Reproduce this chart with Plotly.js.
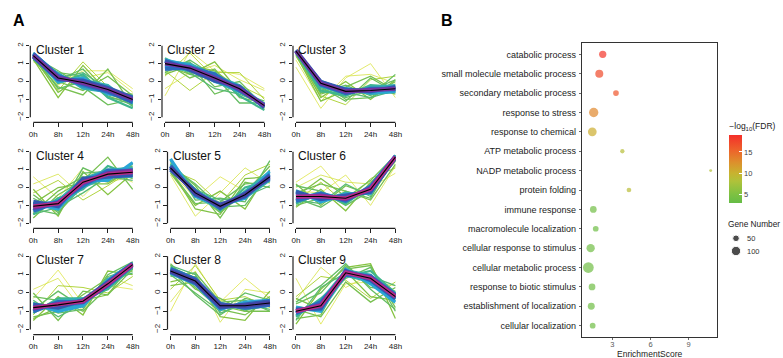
<!DOCTYPE html>
<html><head><meta charset="utf-8">
<script src="https://cdn.plot.ly/plotly-3.0.1.min.js"></script>
<style>html,body{margin:0;padding:0;background:#fff;}#chart{width:783px;height:358px;}</style>
</head><body><div id="chart"></div>
<script>
// ---------------- DATA ----------------
const timeLabels = ['0h','8h','12h','24h','48h'];
const clusterNames = ['Cluster 1','Cluster 2','Cluster 3','Cluster 4','Cluster 5','Cluster 6','Cluster 7','Cluster 8','Cluster 9'];
const clusterSizes = [124,130,120,165,123,271,230,141,125];

// representative standardized profiles per cluster, with membership
const cluster1Profiles = [[1.2,-0.2,0.6,0.6,-0.4],[1.1,0.3,0.2,0.5,-0.6],[1.3,-0.5,1.1,-0.3,-0.9],[1.25,-0.9,0.9,-0.6,-0.7],[1.3,-0.3,-0.75,0.7,-1.4],[1.4,0.6,-0.3,-1.3,-1.0],[1.2,0.1,0.7,-0.8,-1.3],[1.5,-0.1,0.4,-0.9,-1.5],[1.6,0.4,-0.3,-0.3,-1.2],[1.4,0.0,0.2,-0.7,-0.9],[1.55,0.3,-0.15,-0.55,-1.15],[1.4,0.12,0.05,-0.35,-0.9],[1.45,0.22,-0.08,-0.45,-1.0],
  [1.3,0.5,0.3,-0.9,-1.1],[1.5,-0.4,0.0,-0.2,-1.3],[1.2,0.0,-0.5,0.3,-0.8],[1.6,0.2,0.5,-0.4,-1.4],[1.4,-0.6,0.3,-0.7,-1.2],[1.35,0.45,-0.4,-0.6,-0.8],[1.5,0.05,0.1,-0.2,-1.25],[1.55,0.35,-0.25,-0.6,-1.05],[1.35,0.1,0.1,-0.4,-0.95]];
const cluster1Membership = [0.1,0.12,0.25,0.35,0.38,0.4,0.42,0.5,0.58,0.6,0.72,0.75,0.88,0.4,0.42,0.38,0.45,0.36,0.55,0.55,0.65,0.65];
const cluster1Centroid = [1.45,0.2,-0.05,-0.45,-1.0];

const cluster2Profiles = [[-0.8,1.7,0.6,0.4,-0.4],[-0.4,0.5,0.9,0.1,-0.5],[0.3,1.6,0.2,-0.2,-0.9],[0.6,-0.5,0.5,0.5,-1.0],[0.9,0.4,1.1,-0.6,-1.3],[1.2,1.0,-0.7,-0.2,-1.5],[0.5,1.2,0.3,-1.2,-1.2],[1.3,0.6,0.5,-0.8,-1.6],[1.2,0.9,0.0,-0.3,-1.4],[0.7,0.8,0.4,-0.5,-1.3],[1.15,0.65,0.05,-0.3,-1.45],[1.0,0.78,0.2,-0.42,-1.35],
  [1.1,0.2,0.7,-0.9,-1.2],[0.9,1.1,-0.3,0.0,-1.4],[1.3,0.4,0.1,-0.6,-1.1],[0.4,0.9,0.6,-0.4,-1.5],[1.2,0.5,-0.4,-0.7,-1.3],[1.1,1.0,0.35,-0.2,-1.4],[0.8,0.6,0.0,-0.6,-1.25],[1.15,0.85,0.1,-0.5,-1.4],[0.9,0.7,0.3,-0.3,-1.3]];
const cluster2Membership = [0.1,0.12,0.22,0.25,0.35,0.4,0.42,0.5,0.6,0.7,0.75,0.88,0.38,0.4,0.42,0.36,0.45,0.55,0.55,0.65,0.65];
const cluster2Centroid = [1.0,0.75,0.2,-0.4,-1.35];

const cluster3Profiles = [[0.8,-1.5,0.2,1.0,-0.9],[1.2,-1.1,0.3,0.4,-0.1],[1.4,-0.8,-1.3,0.1,0.3],[1.6,-0.9,0.0,-1.0,0.1],[1.5,-0.3,-1.1,0.2,-0.6],[1.7,-0.6,-0.2,-0.8,0.4],[1.6,-0.5,-0.8,-0.2,-0.3],[1.7,-0.2,-0.4,-0.6,-0.55],[1.7,-0.15,-0.65,-0.4,-0.4],[1.75,-0.02,-0.45,-0.55,-0.3],[1.7,-0.1,-0.55,-0.5,-0.4],
  [1.5,-1.1,-0.5,-0.3,-0.7],[1.7,0.0,-1.0,-0.9,0.0],[1.6,-0.7,-0.3,0.3,-0.5],[1.65,-0.4,-0.9,-0.5,0.1],[1.55,-0.6,-0.6,-0.9,-0.5],[1.7,-0.3,-0.7,-0.3,-0.2],[1.75,-0.05,-0.4,-0.7,-0.6],[1.72,-0.2,-0.6,-0.45,-0.5],[1.7,0.0,-0.5,-0.6,-0.35]];
const cluster3Membership = [0.1,0.12,0.25,0.35,0.4,0.42,0.5,0.6,0.72,0.75,0.88,0.36,0.4,0.38,0.42,0.45,0.55,0.55,0.65,0.65];
const cluster3Centroid = [1.7,-0.1,-0.55,-0.5,-0.4];

const cluster4Profiles = [[0.6,-0.6,1.1,0.3,0.6],[0.2,0.75,-0.5,0.9,0.3],[-0.3,0.4,-0.7,0.1,1.0],[-0.1,-1.6,0.9,-0.4,0.8],[-1.7,-0.4,0.4,1.7,-0.1],[-0.6,-1.3,1.1,0.5,1.3],[-1.5,-0.6,-0.1,1.2,0.7],[-0.9,-1.2,0.4,0.4,1.4],[-1.3,-0.8,0.1,0.95,0.9],[-0.8,-1.05,0.5,0.6,0.7],[-1.15,-0.85,0.25,0.8,0.95],[-1.05,-0.9,0.3,0.75,0.85],
  [-1.4,-0.2,0.6,0.3,1.0],[-0.4,-1.4,0.1,1.0,0.5],[-1.2,-1.5,0.8,0.9,1.2],[-0.9,0.0,0.2,0.2,1.1],[-1.5,-1.1,-0.3,0.6,0.4],[-1.2,-0.7,0.5,1.0,1.1],[-0.9,-1.1,0.0,0.6,0.6],[-1.15,-0.95,0.4,0.9,1.0],[-0.95,-0.8,0.15,0.65,0.75]];
const cluster4Membership = [0.1,0.12,0.25,0.35,0.38,0.42,0.5,0.6,0.7,0.75,0.88,0.95,0.38,0.4,0.42,0.36,0.45,0.55,0.55,0.65,0.65];
const cluster4Centroid = [-1.05,-0.9,0.3,0.75,0.85];

const cluster5Profiles = [[0.9,-0.6,0.6,-0.2,0.9],[0.7,-1.6,-0.3,1.1,0.2],[1.0,0.4,-0.9,0.7,1.3],[0.8,-1.0,-0.2,-1.2,1.0],[1.3,0.1,-1.7,0.3,0.0],[1.5,-0.7,-0.6,-0.8,1.5],[1.2,-0.1,-1.3,0.0,0.4],[1.6,-0.5,-1.0,-0.6,0.9],[1.0,-0.2,-1.15,-0.3,0.5],[1.2,-0.4,-0.95,-0.5,0.7],[1.1,-0.3,-1.05,-0.4,0.6],
  [1.4,-0.3,-1.4,-0.3,1.2],[0.9,-0.9,-0.8,0.2,0.3],[1.2,0.2,-1.1,-1.0,0.8],[1.0,-1.2,-1.5,0.5,0.6],[1.5,-0.1,-0.7,-0.5,0.1],[1.3,-0.5,-1.2,-0.2,0.9],[0.95,-0.15,-0.9,-0.6,0.4],[1.15,-0.35,-1.1,-0.45,0.75],[1.05,-0.25,-1.0,-0.35,0.5]];
const cluster5Membership = [0.08,0.12,0.25,0.35,0.38,0.42,0.5,0.6,0.72,0.75,0.82,0.38,0.4,0.42,0.36,0.45,0.55,0.55,0.65,0.65];
const cluster5Centroid = [1.1,-0.3,-1.05,-0.4,0.6];

const cluster6Profiles = [[0.3,1.2,-0.4,0.0,0.8],[-0.2,-0.3,0.7,-1.0,1.2],[0.0,0.7,0.3,0.2,1.4],[-0.8,0.3,-0.9,0.5,1.1],[-1.1,-0.1,-1.3,0.3,1.5],[0.2,-1.0,0.1,-0.4,1.7],[-0.6,-1.1,-0.2,-0.6,1.8],[-0.9,-0.3,-0.9,0.1,1.6],[-0.2,-0.8,-0.4,-0.3,1.7],[-0.75,-0.35,-0.75,0.05,1.75],[-0.25,-0.65,-0.45,-0.25,1.65],[-0.55,-0.45,-0.65,-0.05,1.72],[-0.5,-0.5,-0.6,-0.1,1.7],
  [-0.3,0.2,-0.2,-0.7,1.3],[-1.0,-0.6,-0.6,0.4,1.8],[0.1,-0.2,-1.0,-0.2,1.5],[-0.5,0.5,-0.5,0.0,1.6],[-0.7,-0.9,0.2,-0.5,1.7],[-0.8,-0.4,-0.8,0.15,1.8],[-0.15,-0.7,-0.3,-0.35,1.6],[-0.65,-0.3,-0.7,0.0,1.75],[-0.35,-0.65,-0.5,-0.2,1.68]];
const cluster6Membership = [0.08,0.1,0.15,0.25,0.35,0.38,0.42,0.5,0.6,0.7,0.75,0.88,0.95,0.38,0.4,0.42,0.36,0.45,0.55,0.55,0.65,0.65];
const cluster6Centroid = [-0.5,-0.5,-0.6,-0.1,1.7];

const cluster7Profiles = [[-0.3,1.25,-0.6,0.4,0.2],[0.2,0.8,-1.0,0.9,0.4],[-1.2,0.4,0.3,0.0,0.9],[-1.5,-0.2,-1.2,1.2,1.0],[0.0,-1.5,0.1,-0.1,1.3],[-0.5,-1.1,-0.9,1.0,1.7],[-1.1,-0.3,-0.3,0.2,1.4],[-0.6,-1.0,-0.7,0.7,1.6],[-1.0,-0.5,-0.5,0.4,1.5],[-0.65,-0.8,-0.4,0.6,1.6],[-0.85,-0.6,-0.5,0.45,1.55],[-0.8,-0.65,-0.45,0.5,1.55],
  [-1.3,-1.0,-0.1,0.8,1.2],[-0.2,-0.4,-1.0,0.3,1.6],[-0.9,0.1,-0.8,0.9,1.3],[-1.4,-0.8,-0.4,-0.1,1.7],[-0.4,-1.3,-0.6,0.6,1.1],[-1.0,-0.4,-0.3,0.3,1.5],[-0.55,-0.9,-0.65,0.75,1.65],[-0.9,-0.55,-0.4,0.4,1.5],[-0.7,-0.75,-0.55,0.6,1.6]];
const cluster7Membership = [0.08,0.12,0.25,0.35,0.38,0.42,0.5,0.6,0.7,0.75,0.88,0.95,0.38,0.4,0.42,0.36,0.45,0.55,0.55,0.65,0.65];
const cluster7Centroid = [-0.8,-0.65,-0.45,0.5,1.55];

const cluster8Profiles = [[-1.0,1.6,-0.5,0.8,-0.3],[-0.5,1.2,-1.6,0.2,0.0],[0.2,1.5,-0.4,-0.2,-0.8],[0.6,0.9,-1.3,-1.5,0.1],[1.5,0.2,-0.3,-1.0,-1.0],[1.0,0.0,-1.0,0.0,-0.4],[1.4,0.8,-0.6,-0.9,-0.7],[1.1,0.5,-0.9,-0.5,-0.4],[1.3,0.75,-0.6,-0.8,-0.65],[1.15,0.55,-0.8,-0.6,-0.45],[1.2,0.65,-0.7,-0.7,-0.55],
  [1.6,0.3,-0.9,-1.2,-0.3],[0.9,1.1,-0.5,-0.4,-1.0],[1.3,-0.1,-1.2,-0.3,-0.6],[0.4,0.6,-0.7,-1.0,-0.2],[1.5,1.0,-1.1,-0.6,-0.9],[1.35,0.8,-0.55,-0.85,-0.7],[1.05,0.45,-0.85,-0.55,-0.4],[1.25,0.7,-0.65,-0.75,-0.6],[1.15,0.6,-0.75,-0.65,-0.5]];
const cluster8Membership = [0.08,0.12,0.25,0.35,0.38,0.42,0.5,0.6,0.72,0.75,0.82,0.38,0.4,0.42,0.36,0.45,0.55,0.55,0.65,0.65];
const cluster8Centroid = [1.2,0.65,-0.7,-0.7,-0.55];

const cluster9Profiles = [[0.8,-1.7,0.5,0.6,0.4],[-0.4,1.4,0.3,1.0,-0.6],[-0.2,0.9,0.7,-0.3,0.6],[-1.7,0.2,1.4,1.6,-1.4],[-0.9,-1.3,0.6,-0.5,0.3],[-0.5,0.4,1.6,0.2,-0.9],[-1.3,-0.3,0.9,1.2,0.0],[-0.8,-1.0,1.3,0.5,-0.5],[-1.1,-0.5,1.0,0.9,-0.1],[-0.9,-0.85,1.2,0.7,-0.3],[-1.0,-0.65,1.15,0.85,-0.15],[-1.0,-0.7,1.1,0.8,-0.2],
  [-1.4,-1.2,1.3,1.5,-0.8],[-0.6,0.0,1.5,0.3,0.1],[-1.2,-0.6,0.8,1.4,-1.0],[-0.3,-0.9,1.2,-0.2,-0.4],[-1.5,0.3,1.1,0.9,0.4],[-1.2,-0.4,1.25,1.0,-0.35],[-0.75,-1.0,0.95,0.6,0.0],[-1.1,-0.6,1.05,0.95,-0.1],[-0.9,-0.8,1.2,0.7,-0.3]];
const cluster9Membership = [0.08,0.12,0.25,0.35,0.38,0.42,0.5,0.6,0.7,0.75,0.88,0.95,0.38,0.4,0.42,0.36,0.45,0.55,0.55,0.65,0.65];
const cluster9Centroid = [-1.0,-0.7,1.1,0.8,-0.2];

// GO enrichment (panel B)
const goTerms = ['catabolic process','small molecule metabolic process','secondary metabolic process','response to stress','response to chemical','ATP metabolic process','NADP metabolic process','protein folding','immune response','macromolecule localization','cellular response to stimulus','cellular metabolic process','response to biotic stimulus','establishment of localization','cellular localization'];
const enrichmentScore = [2.25,1.98,3.29,1.54,1.43,3.79,10.73,4.31,1.51,1.70,1.30,1.12,1.41,1.35,1.46];
const negLog10FDR = [18.5,17.2,16.3,13.0,10.4,8.6,8.3,8.8,3.8,3.6,3.9,3.9,3.7,3.7,3.7];
const geneNumber = [60,72,37,98,86,21,10,25,51,37,78,130,51,55,37];
const geneLegendValues = [50,100];

// ---------------- BUILD ----------------
const W = 783, H = 358;
const FONT = 'Liberation Sans, Arial, sans-serif';
const allProfiles = [cluster1Profiles,cluster2Profiles,cluster3Profiles,cluster4Profiles,cluster5Profiles,cluster6Profiles,cluster7Profiles,cluster8Profiles,cluster9Profiles];
const allMembership = [cluster1Membership,cluster2Membership,cluster3Membership,cluster4Membership,cluster5Membership,cluster6Membership,cluster7Membership,cluster8Membership,cluster9Membership];
const allCentroids = [cluster1Centroid,cluster2Centroid,cluster3Centroid,cluster4Centroid,cluster5Centroid,cluster6Centroid,cluster7Centroid,cluster8Centroid,cluster9Centroid];

const palStops = [[0,'#EEEA50'],[0.2,'#C6DC3C'],[0.35,'#86C341'],[0.5,'#3FB68C'],[0.6,'#2AA5D6'],[0.7,'#2B6CC0'],[0.8,'#3A44A0'],[0.88,'#7434A0'],[1,'#E2287A']];
function hex2rgb(h){return [parseInt(h.slice(1,3),16),parseInt(h.slice(3,5),16),parseInt(h.slice(5,7),16)];}
function memColor(m){
  for(let i=1;i<palStops.length;i++){
    if(m<=palStops[i][0]){
      const a=palStops[i-1][0], b=palStops[i][0];
      const A=hex2rgb(palStops[i-1][1]), B=hex2rgb(palStops[i][1]);
      const t=(m-a)/(b-a);
      return 'rgb('+A.map((v,k)=>Math.round(v+(B[k]-v)*t)).join(',')+')';
    }
  }
  return palStops[palStops.length-1][1];
}
function memWidth(m){ if(m<0.2) return 0.8; if(m<0.3) return 1.0; if(m<0.48) return 1.3; if(m<0.6) return 2.2; if(m<0.7) return 3.2; return 4; }

const xIdx = timeLabels.map((_,i)=>i);
const colLeft = [[30.3,162.0,293],[30.3,167.5,293],[30.3,167.5,293]];
const rowDom = [[42,122.3],[148,228.3],[252.5,334.7]];
const panelW = 102.9;

const data = [];
const layout = {
  width: W, height: H, margin:{l:0,r:0,t:0,b:0},
  paper_bgcolor:'#fff', plot_bgcolor:'rgba(0,0,0,0)',
  font:{family:FONT,color:'#1a1a1a'}, showlegend:false,
  shapes:[], annotations:[]
};

for(let i=0;i<9;i++){
  const s = i===0 ? '' : String(i+1);
  const r = Math.floor(i/3), c = i%3;
  const xl = colLeft[r][c];
  layout['xaxis'+s] = {domain:[xl/W,(xl+panelW)/W], anchor:'y'+s, range:[-0.12,4.02],
    tickmode:'array', tickvals:xIdx, ticktext:timeLabels, ticks:'outside', ticklen:4, tickwidth:1, tickcolor:'#222',
    showgrid:false, zeroline:false, showline:false, tickfont:{size:8,color:'#222'}, fixedrange:true};
  layout['yaxis'+s] = {domain:[1-rowDom[r][1]/H,1-rowDom[r][0]/H], anchor:'x'+s, range:[-2.28,2.21],
    tickmode:'array', tickvals:[-2,-1,0,1,2], ticks:'outside', ticklen:3.5, tickwidth:1, tickcolor:'#222', tickangle:-90,
    showgrid:false, zeroline:false, showline:false, tickfont:{size:8,color:'#222'}, fixedrange:true};
  const prof = allProfiles[i], mem = allMembership[i];
  const order = prof.map((_,k)=>k).sort((a,b)=>mem[a]-mem[b]);
  order.forEach(k=>{
    data.push({type:'scatter',mode:'lines',x:xIdx,y:prof[k],xaxis:'x'+s,yaxis:'y'+s,
      line:{color:memColor(mem[k]),width:memWidth(mem[k])},hoverinfo:'skip',showlegend:false});
  });
  data.push({type:'scatter',mode:'lines',x:xIdx,y:allCentroids[i],xaxis:'x'+s,yaxis:'y'+s,
    line:{color:'#000',width:1.1},hoverinfo:'skip',showlegend:false});
  layout.shapes.push({type:'line',xref:'x'+s,yref:'y'+s+' domain',x0:0,x1:4,y0:0,y1:0,line:{color:'#222',width:1.2}});
  layout.shapes.push({type:'line',xref:'x'+s+' domain',yref:'y'+s,x0:0,x1:0,y0:-2,y1:2,line:{color:'#222',width:1.2}});
  layout.annotations.push({xref:'x'+s,yref:'y'+s,x:0.06,y:1.78,xanchor:'left',yanchor:'middle',text:clusterNames[i],showarrow:false,borderpad:0,font:{size:12,color:'#111'}});
  layout.annotations.push({xref:'x'+s,yref:'y'+s,x:4.07,y:1.78,xanchor:'right',yanchor:'middle',text:String(clusterSizes[i]),showarrow:false,borderpad:0,font:{size:12,color:'#111'}});
}

// Panel B
const yIdx = goTerms.map((_,i)=>i);
const sizeOf = n => 0.94*Math.sqrt(n);
layout.xaxis10 = {domain:[582.3/W,717.3/W], anchor:'y10', range:[0.645,11.25], tickmode:'array', tickvals:[3,6,9],
  ticks:'outside', ticklen:2.5, tickwidth:0.8, tickcolor:'#444', tickfont:{size:7.5,color:'#5a5a5a'}, ticklabelstandoff:-2,
  showline:true, mirror:true, linecolor:'#333', linewidth:1, showgrid:false, zeroline:false, fixedrange:true};
layout.yaxis10 = {domain:[1-336.7/H,1-43.3/H], anchor:'x10', range:[14.57,-0.57], tickmode:'array', tickvals:yIdx, ticktext:goTerms,
  ticks:'outside', ticklen:2.5, tickwidth:0.8, tickcolor:'#444', tickfont:{size:9,color:'#1a1a1a'}, ticklabelstandoff:1,
  showline:true, mirror:true, linecolor:'#333', linewidth:1, showgrid:false, zeroline:false, fixedrange:true};
data.push({type:'scatter',mode:'markers',x:enrichmentScore,y:yIdx,xaxis:'x10',yaxis:'y10',hoverinfo:'skip',showlegend:false,
  marker:{size:geneNumber.map(sizeOf),color:negLog10FDR,cmin:2.9,cmax:18.9,line:{width:0},
    colorscale:[[0,'#65BC46'],[0.13,'#7EC142'],[0.32,'#AFC23A'],[0.44,'#C8B22F'],[0.6,'#DD8F2C'],[0.76,'#EC672B'],[1,'#F42F2A']],
    showscale:true,
    colorbar:{x:729.3/W,xanchor:'left',y:1-203.5/H,yanchor:'bottom',len:84,lenmode:'pixels',thickness:13,thicknessmode:'pixels',
      outlinewidth:0,xpad:0,ypad:0,tickmode:'array',tickvals:[5,10,15],ticks:'inside',ticklen:3,tickcolor:'#fff',
      tickfont:{size:7.5,color:'#444'},title:{text:'\u2212log<sub>10</sub>(FDR)',side:'top',font:{size:8.5,color:'#1a1a1a'}}}}});

// size legend
layout.xaxis11 = {domain:[731/W,741/W], anchor:'y11', range:[-0.5,0.5], visible:false, fixedrange:true};
layout.yaxis11 = {domain:[1-257.35/H,1-231.95/H], anchor:'x11', range:[1.5,-0.5], visible:false, fixedrange:true};
data.push({type:'scatter',mode:'markers',x:geneLegendValues.map(()=>0),y:geneLegendValues.map((_,i)=>i),xaxis:'x11',yaxis:'y11',
  hoverinfo:'skip',showlegend:false,cliponaxis:false,marker:{size:geneLegendValues.map(sizeOf),color:'#000'}});
geneLegendValues.forEach((v,i)=>{
  layout.annotations.push({xref:'paper',yref:'y11',x:746/W,y:i,xanchor:'left',yanchor:'middle',text:String(v),showarrow:false,borderpad:0,font:{size:7.5,color:'#333'}});
});
layout.annotations.push({xref:'paper',yref:'paper',x:727/W,y:1-224/H,xanchor:'left',yanchor:'middle',text:'Gene Number',showarrow:false,borderpad:0,font:{size:8.3,color:'#1a1a1a'}});
layout.annotations.push({xref:'paper',yref:'paper',x:649.5/W,y:1-353.5/H,xanchor:'center',yanchor:'middle',text:'EnrichmentScore',showarrow:false,borderpad:0,font:{size:8.5,color:'#222'}});
layout.annotations.push({xref:'paper',yref:'paper',x:19/W,y:1-21/H,xanchor:'center',yanchor:'middle',text:'<b>A</b>',showarrow:false,font:{size:16,color:'#000'}});
layout.annotations.push({xref:'paper',yref:'paper',x:447/W,y:1-21/H,xanchor:'center',yanchor:'middle',text:'<b>B</b>',showarrow:false,font:{size:16,color:'#000'}});

Plotly.newPlot('chart', data, layout, {displayModeBar:false, staticPlot:true});
</script>
</body></html>
